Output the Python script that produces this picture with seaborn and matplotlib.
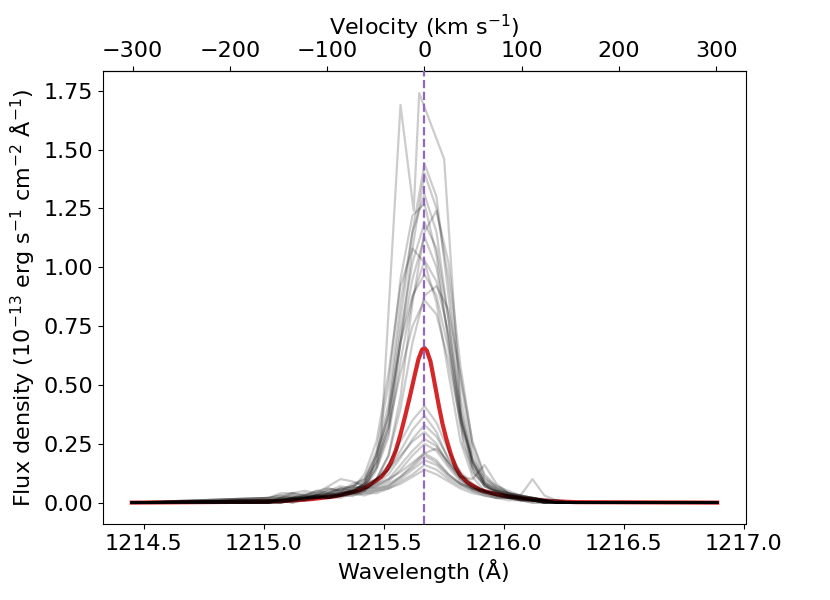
import numpy as np
import pandas as pd
import matplotlib
matplotlib.use("Agg")
import matplotlib.pyplot as plt
import seaborn as sns

# ---------------- data ----------------
LAMBDA0 = 1215.67          # Angstrom (Ly-alpha rest)
C_KMS = 299792.458

edge_wave = [1214.45, 1216.89]

core_wave = [1215.02, 1215.07, 1215.12, 1215.17, 1215.22, 1215.27, 1215.32,
             1215.37, 1215.42, 1215.47, 1215.52, 1215.57, 1215.62, 1215.67,
             1215.72, 1215.77, 1215.82, 1215.87, 1215.92, 1215.97, 1216.02,
             1216.07, 1216.12, 1216.17, 1216.22, 1216.27, 1216.32]

high_spectra = [
    [0.00,0.01,0.02,0.01,0.03,0.02,0.04,0.05,0.08,0.18,0.38,0.78,1.15,1.44,1.30,0.88,0.45,0.18,0.08,0.04,0.03,0.02,0.01,0.01,0.00,0.00,0.00],
    [0.01,0.00,0.01,0.02,0.02,0.03,0.03,0.06,0.07,0.15,0.30,0.68,1.08,1.40,1.25,0.95,0.52,0.22,0.09,0.05,0.03,0.02,0.02,0.01,0.00,0.00,0.00],
    [0.00,0.01,0.00,0.02,0.04,0.03,0.05,0.04,0.09,0.20,0.42,0.85,1.15,1.31,1.15,0.78,0.38,0.15,0.07,0.05,0.02,0.02,0.01,0.00,0.00,0.00,0.00],
    [0.02,0.02,0.03,0.02,0.03,0.05,0.04,0.07,0.10,0.22,0.50,0.95,1.22,1.27,1.05,0.68,0.32,0.13,0.07,0.04,0.03,0.01,0.01,0.00,0.00,0.00,0.00],
    [0.00,0.00,0.01,0.01,0.02,0.02,0.03,0.03,0.05,0.10,0.20,0.45,0.85,1.15,1.24,1.02,0.58,0.25,0.11,0.06,0.04,0.02,0.01,0.01,0.00,0.00,0.00],
    [0.01,0.02,0.01,0.03,0.02,0.04,0.06,0.05,0.08,0.17,0.36,0.72,1.02,1.19,1.08,0.78,0.40,0.18,0.08,0.05,0.03,0.03,0.02,0.01,0.00,0.00,0.00],
    [0.00,0.01,0.02,0.02,0.03,0.02,0.03,0.05,0.07,0.15,0.33,0.68,0.95,1.13,1.00,0.70,0.36,0.16,0.07,0.05,0.04,0.02,0.01,0.00,0.00,0.00,0.00],
    [0.01,0.01,0.02,0.03,0.04,0.05,0.07,0.06,0.12,0.26,0.55,0.92,1.08,1.02,0.85,0.55,0.26,0.11,0.05,0.03,0.02,0.02,0.01,0.01,0.00,0.00,0.00],
    [0.00,0.00,0.01,0.02,0.02,0.03,0.04,0.04,0.06,0.14,0.28,0.60,0.87,1.03,0.94,0.72,0.38,0.17,0.08,0.06,0.03,0.02,0.02,0.01,0.00,0.00,0.00],
    [0.02,0.03,0.02,0.04,0.03,0.06,0.05,0.08,0.10,0.20,0.38,0.68,0.88,0.97,0.88,0.65,0.35,0.19,0.10,0.07,0.05,0.03,0.02,0.01,0.01,0.00,0.00],
    [0.00,0.01,0.01,0.02,0.02,0.02,0.03,0.04,0.05,0.10,0.20,0.40,0.68,0.88,0.92,0.82,0.54,0.26,0.12,0.07,0.04,0.03,0.02,0.01,0.00,0.00,0.00],
    [0.01,0.01,0.02,0.02,0.03,0.04,0.06,0.07,0.09,0.17,0.32,0.55,0.75,0.86,0.80,0.60,0.34,0.17,0.09,0.06,0.04,0.03,0.02,0.01,0.00,0.00,0.00],
]

low_spectra = [
    [0.00,0.02,0.04,0.03,0.05,0.04,0.06,0.05,0.08,0.10,0.16,0.26,0.35,0.41,0.34,0.22,0.13,0.08,0.05,0.04,0.03,0.02,0.01,0.01,0.00,0.00,0.00],
    [0.01,0.01,0.02,0.02,0.03,0.04,0.03,0.06,0.07,0.09,0.14,0.22,0.31,0.37,0.30,0.18,0.11,0.10,0.16,0.08,0.04,0.03,0.02,0.01,0.00,0.00,0.00],
    [0.00,0.00,0.01,0.03,0.02,0.03,0.05,0.04,0.06,0.08,0.12,0.19,0.27,0.33,0.28,0.19,0.12,0.07,0.05,0.03,0.02,0.02,0.01,0.00,0.00,0.00,0.00],
    [0.02,0.03,0.04,0.05,0.04,0.07,0.10,0.09,0.07,0.10,0.14,0.20,0.26,0.30,0.25,0.16,0.10,0.06,0.05,0.03,0.03,0.02,0.01,0.01,0.00,0.00,0.00],
    [0.00,0.01,0.01,0.02,0.03,0.02,0.04,0.05,0.06,0.07,0.10,0.16,0.22,0.27,0.24,0.17,0.10,0.06,0.04,0.05,0.04,0.03,0.10,0.03,0.01,0.00,0.00],
    [0.01,0.02,0.01,0.02,0.02,0.03,0.03,0.05,0.05,0.07,0.09,0.14,0.20,0.25,0.22,0.15,0.09,0.06,0.04,0.03,0.02,0.01,0.01,0.00,0.00,0.00,0.00],
    [0.00,0.01,0.02,0.01,0.02,0.04,0.03,0.04,0.06,0.06,0.08,0.11,0.16,0.21,0.23,0.17,0.11,0.07,0.05,0.03,0.02,0.02,0.01,0.00,0.00,0.00,0.00],
    [0.02,0.04,0.04,0.03,0.05,0.06,0.05,0.07,0.06,0.08,0.10,0.13,0.17,0.21,0.18,0.12,0.08,0.06,0.05,0.04,0.03,0.02,0.01,0.01,0.00,0.00,0.00],
    [0.00,0.00,0.01,0.02,0.03,0.03,0.02,0.04,0.05,0.05,0.07,0.11,0.15,0.20,0.17,0.12,0.08,0.05,0.04,0.02,0.02,0.01,0.00,0.00,0.00,0.00,0.00],
    [0.01,0.01,0.02,0.02,0.02,0.03,0.04,0.04,0.04,0.06,0.07,0.10,0.14,0.18,0.16,0.11,0.08,0.06,0.04,0.03,0.02,0.01,0.01,0.00,0.00,0.00,0.00],
    [0.00,0.01,0.00,0.01,0.02,0.02,0.03,0.03,0.04,0.04,0.06,0.09,0.12,0.16,0.14,0.10,0.07,0.05,0.03,0.02,0.01,0.01,0.00,0.00,0.00,0.00,0.00],
    [0.01,0.02,0.03,0.02,0.03,0.02,0.03,0.04,0.03,0.05,0.06,0.08,0.11,0.14,0.12,0.09,0.06,0.04,0.03,0.02,0.02,0.01,0.01,0.00,0.00,0.00,0.00],
]

# one irregular, double-peaked outlier with its own sampling
outlier_wave = [1215.02, 1215.12, 1215.22, 1215.32, 1215.39, 1215.44, 1215.49,
                1215.57, 1215.625, 1215.648, 1215.752, 1215.83, 1215.88,
                1215.94, 1216.02, 1216.12, 1216.22, 1216.32]
outlier_flux = [0.01, 0.02, 0.03, 0.04, 0.05, 0.10, 0.28,
                1.69, 1.24, 1.74, 1.46, 0.25, 0.12,
                0.06, 0.03, 0.02, 0.01, 0.00]

# smooth mean profile (red)
mean_wave = [1214.45, 1215.00, 1215.10, 1215.20, 1215.30, 1215.40, 1215.43,
             1215.46, 1215.49, 1215.51, 1215.53, 1215.55, 1215.57, 1215.59,
             1215.61, 1215.63, 1215.645, 1215.66, 1215.67, 1215.68, 1215.695,
             1215.71, 1215.73, 1215.745, 1215.76, 1215.78, 1215.80, 1215.82,
             1215.85, 1215.90, 1215.95, 1216.00, 1216.10, 1216.20, 1216.30,
             1216.89]
mean_flux = [0.000, 0.004, 0.008, 0.015, 0.027, 0.053, 0.068,
             0.088, 0.110, 0.135, 0.170, 0.220, 0.290, 0.370,
             0.455, 0.545, 0.610, 0.650, 0.657, 0.645, 0.600,
             0.520, 0.410, 0.335, 0.275, 0.205, 0.150, 0.115,
             0.085, 0.055, 0.040, 0.030, 0.015, 0.006, 0.002,
             0.000]

# ---------------- long-form table ----------------
rows = []
sid = 0
for spec in high_spectra + low_spectra:
    waves = [edge_wave[0]] + core_wave + [edge_wave[1]]
    fluxes = [0.0] + spec + [0.0]
    for w, f in zip(waves, fluxes):
        rows.append((sid, w, f))
    sid += 1
for w, f in zip([edge_wave[0]] + outlier_wave + [edge_wave[1]],
                [0.0] + outlier_flux + [0.0]):
    rows.append((sid, w, f))
df = pd.DataFrame(rows, columns=["spec", "wave", "flux"])
df_mean = pd.DataFrame({"wave": mean_wave, "flux": mean_flux})

# ---------------- plot ----------------
plt.rcParams["font.family"] = ["DejaVu Sans"]
plt.rcParams["font.size"] = 16
plt.rcParams["mathtext.default"] = "regular"

fig = plt.figure(figsize=(8.3, 6.0), dpi=100)
ax = fig.add_axes([0.1235, 0.127, 0.775, 0.755])

sns.lineplot(data=df_mean, x="wave", y="flux", ax=ax, color="#d62728",
             lw=3, estimator=None, sort=False, zorder=2)
sns.lineplot(data=df, x="wave", y="flux", units="spec", estimator=None,
             sort=False, ax=ax, color="k", alpha=0.2, lw=1.6, zorder=3)
ax.axvline(LAMBDA0, color="#9467bd", ls="--", lw=1.6, zorder=4)

ax.set_xlim(1214.328, 1217.009)
ax.set_ylim(-0.09, 1.835)
ax.set_yticks([0.0, 0.25, 0.5, 0.75, 1.0, 1.25, 1.5, 1.75])
ax.set_xlabel("Wavelength (Å)")
ax.set_ylabel(r"Flux density (10$^{-13}$ erg s$^{-1}$ cm$^{-2}$ Å$^{-1}$)")


def lam2vel(lam):
    return (np.asarray(lam) - LAMBDA0) / LAMBDA0 * C_KMS


def vel2lam(v):
    return LAMBDA0 * (1 + np.asarray(v) / C_KMS)


sec = ax.secondary_xaxis("top", functions=(lam2vel, vel2lam))
sec.set_xticks([-300, -200, -100, 0, 100, 200, 300])
sec.set_xlabel(r"Velocity (km s$^{-1}$)")

fig.savefig("out.png", dpi=100)
